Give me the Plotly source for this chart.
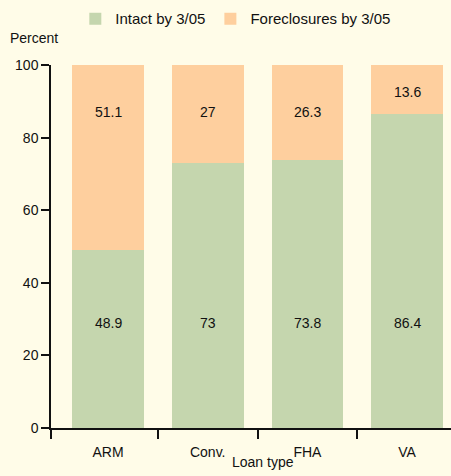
import plotly.graph_objects as go

# ---- data ----
categories = ["ARM", "Conv.", "FHA", "VA"]
intact = [48.9, 73, 73.8, 86.4]
foreclosures = [51.1, 27, 26.3, 13.6]
series_names = ["Intact by 3/05", "Foreclosures by 3/05"]
y_ticks = [0, 20, 40, 60, 80, 100]

# ---- style ----
BG = "#FFFCE8"
GREEN = "#C5D6AE"
ORANGE = "#FECF9E"
INK = "#111111"
FONT = "Liberation Sans Narrow, Arial Narrow, Liberation Sans, sans-serif"
FS = 14

xpos = list(range(len(categories)))

fig = go.Figure()
fig.add_trace(go.Bar(x=xpos, y=intact, name=series_names[0], marker=dict(color=GREEN, line=dict(width=0)), width=0.72))
fig.add_trace(go.Bar(x=xpos, y=foreclosures, name=series_names[1], marker=dict(color=ORANGE, line=dict(width=0)), width=0.72))

# value labels (layout positions)
intact_label_y = 29
fc_label_y = [87, 87, 87, 92.5]
for i in xpos:
    fig.add_annotation(x=i, y=intact_label_y, text=str(intact[i]), showarrow=False,
                       font=dict(size=FS, color=INK, family=FONT), yanchor="middle")
    fig.add_annotation(x=i, y=fc_label_y[i], text=str(foreclosures[i]), showarrow=False,
                       font=dict(size=FS, color=INK, family=FONT), yanchor="middle")

fig.add_annotation(xref="paper", yref="paper", x=-0.1075, y=1.074, text="Percent", showarrow=False,
                   xanchor="left", yanchor="middle", font=dict(size=FS, color=INK, family=FONT))
fig.add_annotation(x=1.55, y=0, yref="paper", yshift=-34, text="Loan type", showarrow=False,
                   xanchor="center", yanchor="middle", font=dict(size=FS, color=INK, family=FONT))

x_left = -0.572
fig.update_layout(
    width=451, height=476,
    barmode="stack",
    paper_bgcolor=BG, plot_bgcolor=BG,
    margin=dict(l=51, r=0, t=65, b=48, autoexpand=False),
    font=dict(family=FONT, size=FS, color=INK),
    showlegend=True,
    legend=dict(orientation="h", xref="container", yref="container", x=0.167, y=0.995,
                xanchor="left", yanchor="top", font=dict(size=15, color=INK, family=FONT),
                bgcolor="rgba(0,0,0,0)", traceorder="normal"),
    xaxis=dict(range=[x_left, 3.44], tickmode="array", tickvals=xpos, ticktext=categories,
               ticks="", showline=True, linecolor=INK, linewidth=1.5, showgrid=False, zeroline=False,
               ticklabelstandoff=10, tickfont=dict(size=FS, color=INK, family=FONT),
               minor=dict(tickmode="array", tickvals=[x_left, 0.5, 1.5, 2.5], ticks="outside",
                          ticklen=9, tickwidth=1.5, tickcolor=INK, showgrid=False)),
    yaxis=dict(range=[0, 100], tickmode="array", tickvals=y_ticks, ticks="outside", ticklen=8,
               tickwidth=1.5, tickcolor=INK, showline=True, linecolor=INK, linewidth=1.5,
               showgrid=False, zeroline=False, tickfont=dict(size=FS, color=INK, family=FONT)),
)

fig.write_html("out.html", config={"displayModeBar": False},
               post_script="document.body.style.margin='0px';document.body.style.background='%s';" % BG)
